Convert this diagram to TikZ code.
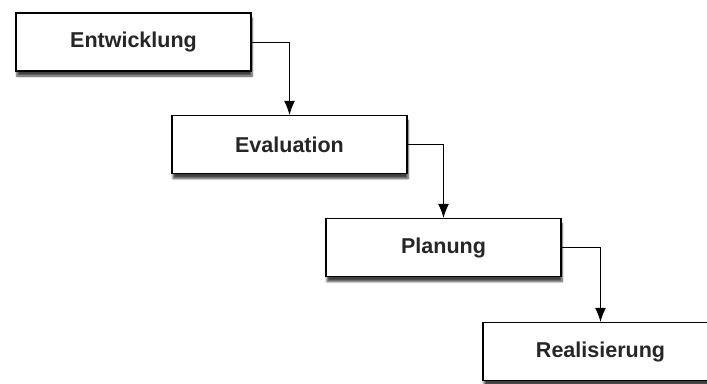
\documentclass[tikz,border=0pt]{standalone}
\usepackage{fontspec}
\setmainfont{Liberation Sans}
\usetikzlibrary{arrows.meta,shadows.blur}

\begin{document}
\begin{tikzpicture}[x=1pt, y=-1pt, phase node/.style={rectangle, draw, line width=1.3pt, fill=white, minimum width=235pt, minimum height=58pt, font=\fontsize{21.5}{24}\selectfont\bfseries, text=black!85, blur shadow={shadow xshift=1pt, shadow yshift=-5pt, shadow blur steps=6, shadow opacity=75}}, flow edge/.style={-{Latex[length=14pt,width=11pt]}, line width=0.9pt}]
\useasboundingbox (0,0) rectangle (707,383);

% phases
\node[phase node] (n0) at (133.5, 42) {Entwicklung};
\node[phase node] (n1) at (289.5, 144.5) {Evaluation};
\node[phase node] (n2) at (443.5, 247.5) {Planung};
\node[phase node] (n3) at (600.5, 351.5) {Realisierung};

% steps
\draw[flow edge] (n0.east) -| (n1.north);
\draw[flow edge] (n1.east) -| (n2.north);
\draw[flow edge] (n2.east) -| (n3.north);

\end{tikzpicture}
\end{document}
